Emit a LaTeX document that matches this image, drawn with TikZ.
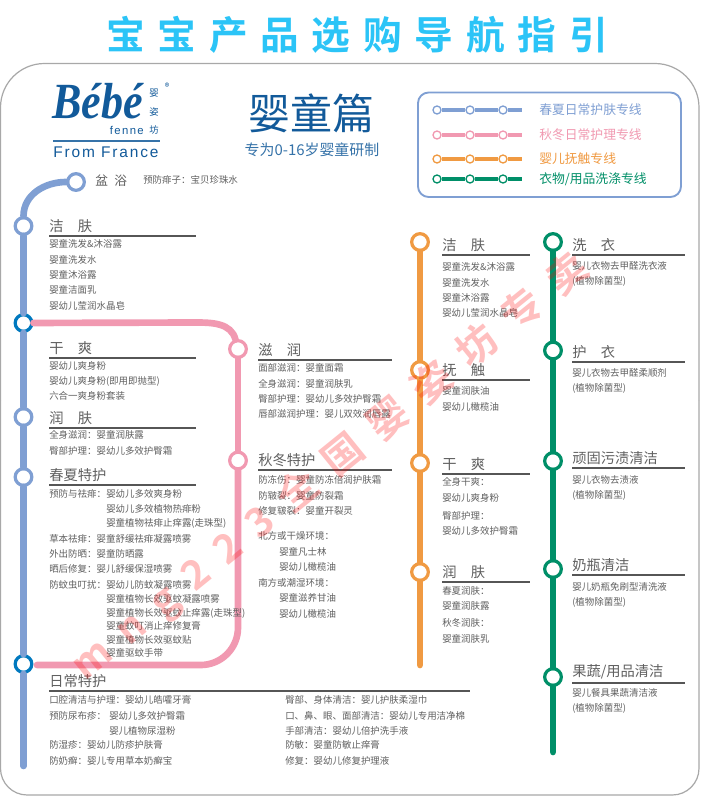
\documentclass[tikz,border=0pt]{standalone}
\usepackage{fontspec}
\setmainfont{Noto Sans CJK SC}
\newfontfamily\titlefont[LetterSpace=33]{Noto Sans CJK SC Bold}
\newfontfamily\markfont[LetterSpace=44]{Noto Sans CJK SC Bold}
\newfontfamily\logofont{Liberation Serif}
\newfontfamily\fromfont[LetterSpace=12]{Liberation Sans}
\usetikzlibrary{positioning, calc}
\definecolor{navBlue}{HTML}{7F9FD3}
\definecolor{navRing}{HTML}{0079BF}
\definecolor{navPink}{HTML}{F199B1}
\definecolor{navOrange}{HTML}{F09A42}
\definecolor{navGreen}{HTML}{008F68}
\definecolor{navTitle}{HTML}{2BC4F7}
\definecolor{navLogo}{HTML}{125A9A}
\definecolor{navText}{HTML}{606060}
\definecolor{navFrame}{HTML}{A8A8A8}
\tikzset{
  station/.style={circle, fill=white, line width=2.4pt, minimum size=12.5pt, inner sep=0pt},
  track/.style={line width=5pt, line cap=round},
  heading/.style={anchor=west, font=\fontsize{10.7}{12}\selectfont, text=navText, inner sep=0pt},
  itemtext/.style={anchor=west, font=\fontsize{7.1}{8}\selectfont, text=navText, inner sep=0pt},
  headrule/.style={navText!90!black, line width=0.9pt},
  logotext/.style={font=\fontsize{7}{8}\selectfont, text=navLogo, inner sep=0pt},
  legendline/.style={line width=2.4pt},
  legendstop/.style={circle, fill=white, line width=1pt, minimum size=6pt, inner sep=0pt},
  legendtext/.style={anchor=west, font=\fontsize{9.6}{11}\selectfont, inner sep=0pt},
}
\begin{document}
\begin{tikzpicture}[x=0.75pt, y=-0.75pt]
  \useasboundingbox (0,0) rectangle (700,796);
  \fill[white] (0,0) rectangle (700,796);

  \draw[navFrame, line width=0.9pt, rounded corners=33pt] (0.5,400) -- (0.5,63.5) -- (699,63.5) -- (699,400);
  \draw[navFrame, line width=0.9pt, rounded corners=20pt] (699,400) -- (699,795) -- (0.5,795) -- (0.5,400);

  \node[font=\titlefont\fontsize{29}{32}\selectfont, text=navTitle, inner sep=0pt] (title) at (357,35) {宝宝产品选购导航指引};

  % logo
  \node[font=\logofont\bfseries\itshape\fontsize{38}{40}\selectfont, text=navLogo, inner sep=0pt, anchor=west, xscale=0.87] (bebe) at (52,101) {Bébé};
  \node[logotext] (ying) at (154,93) {婴};
  \node[logotext] (zi) at (154,112) {姿};
  \node[logotext] (fang) at (154,130) {坊};
  \node[logotext] (regmark) at (167,87) {®};
  \node[font=\fromfont\fontsize{8.5}{9}\selectfont, text=navLogo, inner sep=0pt, anchor=east] (fenne) at (144,130.5) {fenne};
  \draw[navLogo!85, line width=1.2pt] (53,141) -- (160,141);
  \node[font=\fromfont\fontsize{11.6}{13}\selectfont, text=navLogo, inner sep=0pt, anchor=west] (from) at (53,152) {From France};

  \node[font=\fontsize{31.5}{33}\selectfont, text=navLogo, inner sep=0pt] (volume) at (311,113) {婴童篇};
  \node[font=\fontsize{11.2}{13}\selectfont, text=navLogo!85, inner sep=0pt] (range) at (312,150) {专为0-16岁婴童研制};

  % legend
  \draw[navBlue, line width=1.4pt, rounded corners=8pt] (418,92.5) rectangle (681,197);
  \foreach \y/\c in {110/navBlue,135/navPink,159/navOrange,179/navGreen} {
    \node[legendstop, draw=\c] (lega\y) at (437,\y) {};
    \node[legendstop, draw=\c] (legb\y) at (470,\y) {};
    \node[legendstop, draw=\c] (legc\y) at (503,\y) {};
    \coordinate (legd\y) at (522,\y);
    \draw[legendline, \c] (lega\y) -- (legb\y);
    \draw[legendline, \c] (legb\y) -- (legc\y);
    \draw[legendline, \c] (legc\y) -- (legd\y);
  }
  \node[legendtext, text=navBlue] (legtxta) at (539,110) {春夏日常护肤专线};
  \node[legendtext, text=navPink] (legtxtb) at (539,135) {秋冬日常护理专线};
  \node[legendtext, text=navOrange] (legtxtc) at (539,159) {婴儿抚触专线};
  \node[legendtext, text=navGreen] (legtxtd) at (539,179) {衣物/用品洗涤专线};

  % stations
  \node[station, draw=navBlue] (b0) at (76,182) {};
  \node[station, draw=navBlue] (b1) at (23.5,226) {};
  \node[station, draw=navRing] (i1) at (23.5,323) {};
  \node[station, draw=navBlue] (b2) at (23.5,417) {};
  \node[station, draw=navBlue] (b3) at (23.5,477) {};
  \node[station, draw=navRing] (i2) at (23.5,664) {};
  \coordinate (bend) at (23.5,766);

  \node[station, draw=navPink] (p1) at (238,349) {};
  \node[station, draw=navPink] (p2) at (238,460.5) {};
  \coordinate (ptop) at (195,322.5);
  \coordinate (pend) at (37,665);

  \node[station, draw=navOrange] (o1) at (420,242) {};
  \node[station, draw=navOrange] (o2) at (420,370) {};
  \node[station, draw=navOrange] (o3) at (420,463) {};
  \node[station, draw=navOrange] (o4) at (420,572) {};
  \coordinate (oend) at (420,665);

  \node[station, draw=navGreen] (g1) at (553,242) {};
  \node[station, draw=navGreen] (g2) at (553,350.5) {};
  \node[station, draw=navGreen] (g3) at (553,461) {};
  \node[station, draw=navGreen] (g4) at (553,569) {};
  \node[station, draw=navGreen] (g5) at (553,677) {};
  \coordinate (gend) at (553,752);

  % tracks
  \draw[track, navBlue] (b0) to[out=180, in=90] (b1);
  \draw[track, navBlue] (b1) -- (i1);
  \draw[track, navBlue] (i1) -- (b2);
  \draw[track, navBlue] (b2) -- (b3);
  \draw[track, navBlue] (b3) -- (i2);
  \draw[track, navBlue] (i2) -- (bend);

  \draw[track, navPink] (i1) -- (ptop) to[out=0, in=105] (p1);
  \draw[track, navPink] (p1) -- (p2);
  \draw[track, navPink, rounded corners=28pt] (p2) |- (pend);

  \draw[track, navOrange] (o1) -- (o2);
  \draw[track, navOrange] (o2) -- (o3);
  \draw[track, navOrange] (o3) -- (o4);
  \draw[track, navOrange] (o4) -- (oend);

  \draw[track, navGreen] (g1) -- (g2);
  \draw[track, navGreen] (g2) -- (g3);
  \draw[track, navGreen] (g3) -- (g4);
  \draw[track, navGreen] (g4) -- (g5);
  \draw[track, navGreen] (g5) -- (gend);

  % first line
  \node[anchor=west, font=\fontsize{9.5}{11}\selectfont, text=navText, inner sep=0pt] (pen) at (95,181) {盆\hspace{0.5em}浴};
  \node[anchor=west, font=\fontsize{7.1}{8}\selectfont, text=navText, inner sep=0pt] (pentxt) at (143,180) {预防痱子：宝贝珍珠水};

  % headings and their rules
  \foreach \n/\x/\y/\r/\t in {
      ha/49/226/196/洁\hspace{1em}肤, hb/49/348/196/干\hspace{1em}爽, hc/49/418/196/润\hspace{1em}肤,
      hd/49/475/196/春夏特护, he/49/681/470/日常特护,
      hf/258/350/392/滋\hspace{1em}润, hg/258/460/392/秋冬特护,
      hh/442/245/530/洁\hspace{1em}肤, hi/442/370/530/抚\hspace{1em}触, hj/442/464/530/干\hspace{1em}爽, hk/442/572/530/润\hspace{1em}肤,
      hl/572/245/685/洗\hspace{1em}衣, hm/572/352/685/护\hspace{1em}衣, hn/572/458/685/顽固污渍清洁, ho/572/565/685/奶瓶清洁} {
    \node[heading] (\n) at (\x,\y) {\t};
    \draw[headrule] (\x,\y+10) -- (\r,\y+10);
  }
  \node[heading] (hp) at (572,672) {果蔬/用品清洁};
  \draw[headrule] (572,683) -- (685,683);

  % blue items
  \foreach \x/\y/\t in {
      49/244/婴童洗发\&沐浴露, 49/259.5/婴童洗发水, 49/275/婴童沐浴露, 49/290/婴童洁面乳, 49/305.5/婴幼儿莹润水晶皂,
      49/366/婴幼儿爽身粉, 49/381/{婴幼儿爽身粉(即用即抛型)}, 49/395.5/六合一爽身粉套装,
      49/435/全身滋润：婴童润肤露, 49/451/臀部护理：婴幼儿多效护臀霜,
      49/494/预防与祛痱：, 106/494/婴幼儿多效爽身粉, 106/509/婴幼儿多效植物热痱粉, 106/523.5/{婴童植物祛痱止痒露(走珠型)},
      49/539/草本祛痱：婴童舒缓祛痱凝露喷雾, 49/554/外出防晒：婴童防晒露, 49/569/晒后修复：婴儿舒缓保湿喷雾,
      49/585/防蚊虫叮扰：, 106/585/婴幼儿防蚊凝露喷雾, 106/599/婴童植物长效驱蚊凝露喷雾, 106/613/{婴童植物长效驱蚊止痒露(走珠型)},
      106/626/婴童蚊叮消止痒修复膏, 106/640/婴童植物长效驱蚊贴, 106/653/婴童驱蚊手带,
      49/700/口腔清洁与护理：婴幼儿皓嚯牙膏, 49/716/预防尿布疹：, 109/716/婴幼儿多效护臀霜, 109/731/婴儿植物尿湿粉,
      49/745/防湿疹：婴幼儿防疹护肤膏, 49/761/防奶癣：婴儿专用草本奶癣宝,
      285/700/臀部、身体清洁：婴儿护肤柔湿巾, 285/716/口、鼻、眼、面部清洁：婴幼儿专用洁净棉, 285/731/手部清洁：婴幼儿倍护洗手液,
      285/745/防敏：婴童防敏止痒膏, 285/761/修复：婴幼儿修复护理液} {
    \node[itemtext] (bl\x-\y) at (\x,\y) {\t};
  }
  % pink items
  \foreach \x/\y/\t in {
      258/368/面部滋润：婴童面霜, 258/383.5/全身滋润：婴童润肤乳, 258/399/臀部护理：婴幼儿多效护臀霜, 258/414/唇部滋润护理：婴儿双效润唇露,
      258/480/防冻伤：婴童防冻倍润护肤霜, 258/495.5/防皲裂：婴童防裂霜, 258/511/修复皲裂：婴童开裂灵,
      258/536/北方或干燥环境：, 279/552/婴童凡士林, 279/567/婴幼儿橄榄油, 258/583/南方或潮湿环境：, 279/598/婴童滋养甘油, 279/614/婴幼儿橄榄油} {
    \node[itemtext] (pk\x-\y) at (\x,\y) {\t};
  }
  % orange items
  \foreach \y/\t in {
      267/婴童洗发\&沐浴露, 283/婴童洗发水, 297.5/婴童沐浴露, 313/婴幼儿莹润水晶皂,
      391/婴童润肤油, 407/婴幼儿橄榄油,
      482/全身干爽：, 498/婴幼儿爽身粉, 516/臀部护理：, 531/婴幼儿多效护臀霜,
      591/春夏润肤：, 606/婴童润肤露, 623/秋冬润肤：, 639/婴童润肤乳} {
    \node[itemtext] (or\y) at (442,\y) {\t};
  }
  % green items
  \foreach \y/\t in {
      266/婴儿衣物去甲醛洗衣液, 281/{(植物除菌型)}, 373/婴儿衣物去甲醛柔顺剂, 388/{(植物除菌型)},
      480/婴儿衣物去渍液, 495/{(植物除菌型)}, 587/婴儿奶瓶免刷型清洗液, 602/{(植物除菌型)},
      693/婴儿餐具果蔬清洁液, 708/{(植物除菌型)}} {
    \node[itemtext] (gr\y) at (572,\y) {\t};
  }

  \node[font=\markfont\fontsize{30}{32}\selectfont, text=red, opacity=0.25, inner sep=0pt, rotate=39, anchor=west] (wmark) at (78,672) {mng223全国婴姿坊专卖};
\end{tikzpicture}
\end{document}
